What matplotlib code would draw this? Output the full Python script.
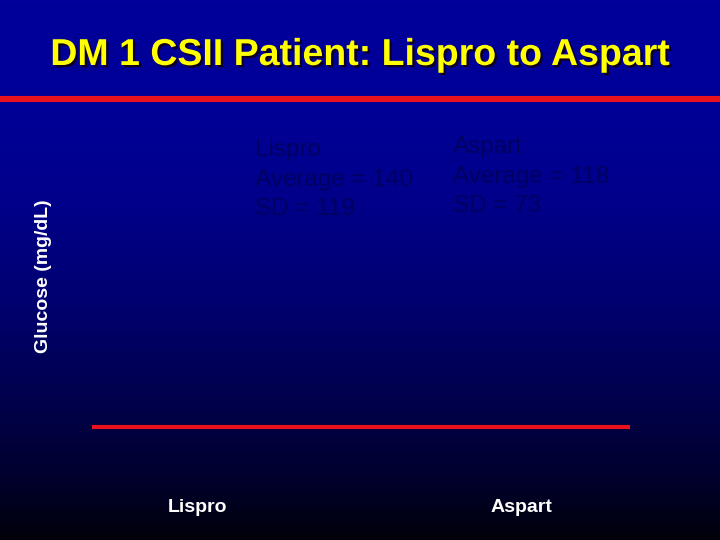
import numpy as np
import matplotlib
matplotlib.use("Agg")
import matplotlib.pyplot as plt
import matplotlib.patheffects as pe
from matplotlib.lines import Line2D
from matplotlib.colors import LinearSegmentedColormap

plt.rcParams['font.family'] = ['Liberation Sans', 'DejaVu Sans']

# ---- data ----
categories = ["Lispro", "Aspart"]
averages = [140, 118]
sds = [119, 73]
title = "DM 1 CSII Patient: Lispro to Aspart"
ylabel = "Glucose (mg/dL)"

W, H = 720, 540
fig = plt.figure(figsize=(7.2, 5.4), dpi=100)

# background gradient
bg = fig.add_axes([0, 0, 1, 1], zorder=-10)
cmap = LinearSegmentedColormap.from_list(
    "bg", [(0.0, "#00009a"), (0.19, "#000098"), (0.37, "#00008a"),
           (0.56, "#000070"), (0.74, "#00004c"), (0.89, "#00002c"),
           (1.0, "#00000c")])
grad = np.linspace(0, 1, 540).reshape(-1, 1)
bg.imshow(grad, aspect='auto', cmap=cmap, extent=[0, 1, 0, 1], origin='upper')
bg.set_axis_off()

# top red rule
fig.add_artist(Line2D([0, 1], [1 - 99 / H, 1 - 99 / H], transform=fig.transFigure,
                      color="#e8121c", lw=4.4, solid_capstyle='butt'))

# title
fig.text(0.5, 1 - 65 / H, title, ha='center', va='baseline', fontsize=27,
         fontweight='bold', color='#ffff00',
         path_effects=[pe.withSimplePatchShadow(offset=(1.6, -1.6),
                                                shadow_rgbFace='#100010', alpha=0.9)])

# main axes
left, right, bottom, top = 92 / W, 630 / W, 1 - 427 / H, 1 - 110 / H
ax = fig.add_axes([left, bottom, right - left, top - bottom])
ax.set_facecolor('none')
ax.set_xlim(-0.327, 1.334)
ax.set_ylim(0, 400)
for s in ['top', 'right', 'left']:
    ax.spines[s].set_visible(False)
ax.spines['bottom'].set_color('#e8121c')
ax.spines['bottom'].set_linewidth(3)
ax.spines['bottom'].set_capstyle('butt')
ax.set_xticks(range(len(categories)))
ax.set_xticklabels(categories, fontsize=14, fontweight='bold', color='white')
ax.tick_params(axis='x', length=0, pad=52)
ax.set_yticks([])

fig.text(44 / W, 1 - 276 / H, ylabel, rotation=90, ha='center', va='center',
         fontsize=14, fontweight='bold', color='white')

# stats annotations
text_x = [255, 453]
text_top = [139, 136]
for cat, avg, sd, tx, ty in zip(categories, averages, sds, text_x, text_top):
    fig.text(tx / W, 1 - ty / H, f"{cat}\nAverage = {avg}\nSD = {sd}",
             ha='left', va='top', fontsize=17.5, color='#000060',
             linespacing=1.45)

fig.savefig("out.png", dpi=100)
